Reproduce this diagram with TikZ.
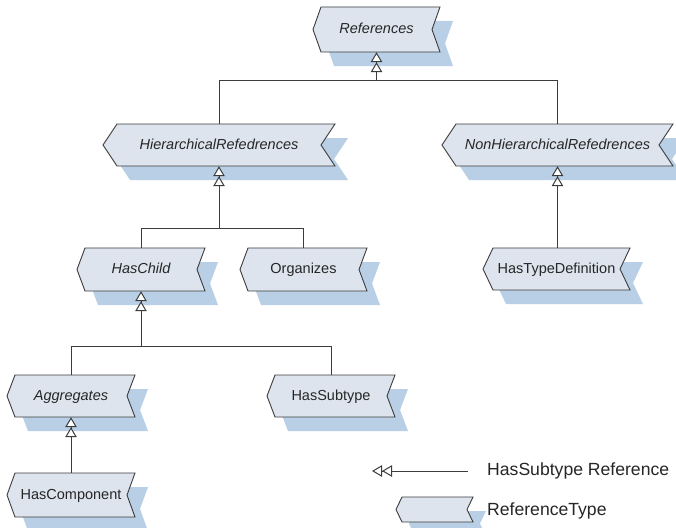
\documentclass[tikz,border=0pt]{standalone}
\usepackage{fontspec}
\setmainfont{Liberation Sans}
\usetikzlibrary{arrows.meta,calc}
\definecolor{boxfill}{HTML}{DDE4EE}
\definecolor{shadowc}{HTML}{B8CFE6}
\definecolor{linec}{HTML}{3C3C3C}
\definecolor{textc}{HTML}{262626}
\tikzset{
  rtshape/.style={fill=boxfill, draw=linec, line width=0.9pt, line join=miter},
  rtshadow/.style={fill=shadowc},
  rtlabel/.style={inner sep=0pt, text=textc, text height=10.4pt, text depth=2pt,
    font=\fontsize{14.5}{16}\selectfont},
  legtext/.style={inner sep=0pt, text=textc, anchor=west, font=\fontsize{17.6}{19}\selectfont},
  subref/.style={draw=linec, line width=1pt,
    {Triangle[open,fill=white,length=10pt,width=11.5pt,sep=0pt]Triangle[open,fill=white,length=10pt,width=11.5pt,sep=0pt]}-},
  conn/.style={draw=linec, line width=1pt}
}
\newcommand\rtype[7]{% #1 name, #2 xl, #3 xr, #4 yt, #5 yb, #6 notch, #7 text
  \pgfmathsetmacro\rtm{(#4+#5)/2}
  \fill[rtshadow] (#2+13,#4+14) -- (#3+13,#4+14) -- (#3+13-#6,\rtm+14) -- (#3+13,#5+14)
    -- (#2+13,#5+14) -- (#2+13-#6,\rtm+14) -- cycle;
  \filldraw[rtshape] (#2,#4) -- (#3,#4) -- (#3-#6,\rtm) -- (#3,#5) -- (#2,#5) -- (#2-#6,\rtm) -- cycle;
  \node[rtlabel, minimum height={#5-#4}] (#1) at ({(#2+#3)/2-#6/2},\rtm) {#7};
}
\begin{document}
\begin{tikzpicture}[x=1pt,y=-1pt]
\useasboundingbox[fill=white] (0,0) rectangle (676,527);
% boxes
\rtype{refs}{321}{440}{7}{52}{8}{\itshape References}
\rtype{hier}{117}{335}{124}{166}{14}{\itshape HierarchicalRefedrences}
\rtype{nonhier}{456}{673}{124}{166}{14}{\itshape NonHierarchicalRefedrences}
\rtype{haschild}{85}{205}{248}{291}{8}{\itshape HasChild}
\rtype{organizes}{248}{367}{248}{291}{8}{Organizes}
\rtype{typedef}{493}{630}{248}{290}{10}{HasTypeDefinition}
\rtype{aggregates}{15}{135}{375}{417}{8}{\itshape Aggregates}
\rtype{hassubtype}{275}{395}{375}{417}{8}{HasSubtype}
\rtype{hascomponent}{15}{135}{473}{517}{8}{HasComponent}
\rtype{legbox}{402}{473}{497}{522}{6}{}
% connectors
\path (refs.south) ++(0,28) coordinate (bus1);
\draw[subref] (refs.south) -- (bus1);
\draw[conn] (hier.north) |- (bus1) -| (nonhier.north);
\path (hier.south) ++(0,62) coordinate (bus2);
\draw[subref] (hier.south) -- (bus2);
\draw[conn] (haschild.north) |- (bus2) -| (organizes.north);
\draw[subref] (nonhier.south) -- (nonhier.south |- typedef.north);
\path (haschild.south) ++(0,55) coordinate (bus3);
\draw[subref] (haschild.south) -- (bus3);
\draw[conn] (aggregates.north) |- (bus3) -| (hassubtype.north);
\draw[subref] (aggregates.south) -- (hascomponent.north);
% legend
\coordinate (la) at (372,471);
\coordinate (lb) at (468,471);
\draw[subref] (la) -- (lb);
\node[legtext] (lt1) at (487,471) {HasSubtype Reference};
\node[legtext] (lt2) at (487,511) {ReferenceType};
\end{tikzpicture}
\end{document}
